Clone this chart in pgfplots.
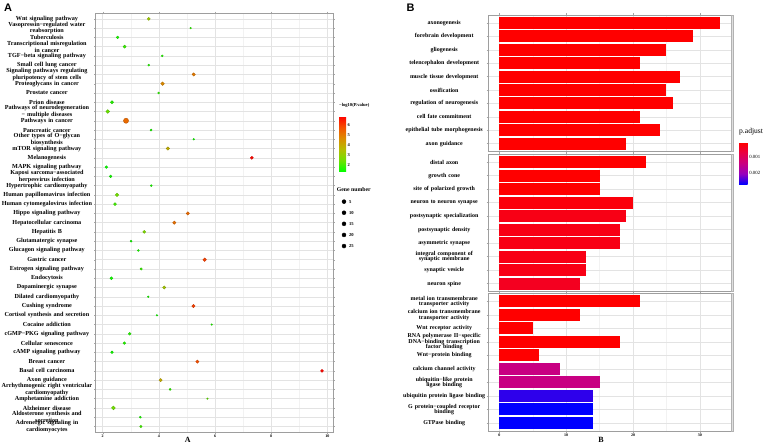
\documentclass[border=0pt]{standalone}
\usepackage{fontspec}
\setmainfont{Liberation Serif}
\newfontfamily\headfont{Liberation Sans}
\usepackage{pgfplots}
\usepackage{pgfplotstable}
\pgfplotsset{compat=1.18}

\definecolor{gridmaj}{gray}{0.89}
\definecolor{gridmin}{gray}{0.95}
\definecolor{panelframe}{gray}{0.62}

% panel A: KEGG terms, x = enrichment, logp = -log10(P.value), n = gene number
\pgfplotstableread{
idx x logp n
1 3.64 3.2 7
2 5.13 1.8 3
3 2.53 1.6 6
4 2.78 1.9 7
5 4.12 1.7 4
6 3.64 1.7 4
7 5.24 5.0 8
8 4.13 4.7 9
9 3.99 1.8 4
10 2.33 1.7 7
11 2.18 2.4 10
12 2.83 5.3 16
13 3.72 1.6 4
14 5.24 1.5 3
15 4.32 3.9 8
16 7.31 6.8 7
17 2.13 1.4 6
18 2.28 1.5 6
19 3.73 1.6 4
20 2.51 2.5 9
21 2.44 2.0 7
22 5.03 5.3 8
23 4.55 5.2 8
24 3.48 2.7 7
25 3.01 1.5 4
26 3.27 1.6 4
27 5.63 6.0 9
28 3.37 1.9 5
29 2.31 1.5 7
30 4.19 3.3 7
31 3.62 1.6 3
32 5.23 6.0 8
33 3.93 1.5 3
34 5.88 1.7 3
35 2.96 1.7 6
36 2.77 1.7 6
37 2.33 1.5 6
38 5.37 5.8 8
39 9.81 6.8 7
40 4.06 4.0 8
41 4.40 1.8 4
42 5.73 2.3 3
43 2.38 2.5 10
44 3.34 1.6 4
45 3.36 2.0 5
}\keggtable

\pgfplotstableread{
idx x n
1 0.4 5
2 0.4 10
3 0.4 15
4 0.4 20
5 0.4 25
}\sizetable

% panel B: GO terms, val = count, p = p.adjust in units of 0.001
\pgfplotstableread{
idx val p
1 33 0.1
2 29 0.1
3 25 0.1
4 21 0.1
5 27 0.1
6 25 0.1
7 26 0.1
8 21 0.1
9 24 0.1
10 19 0.1
}\bptable
\pgfplotstableread{
idx val p
1 22 0.1
2 15 0.1
3 15 0.1
4 20 0.2
5 19 0.3
6 18 0.3
7 18 0.3
8 13 0.3
9 13 0.3
10 12 0.4
}\cctable
\pgfplotstableread{
idx val p
1 21 0.1
2 12 0.1
3 5 0.1
4 18 0.1
5 6 0.1
6 9 1.4
7 15 1.4
8 14 2.5
9 14 2.7
10 14 2.7
}\mftable

\pgfplotsset{
  /pgf/number format/assume math mode=true,
  ggpanel/.style={
    anchor=south west, scale only axis,
    grid=both,
    major grid style={gridmaj, line width=0.45bp},
    minor grid style={gridmin, line width=0.3bp},
    axis line style={panelframe, line width=0.7bp},
    tick align=outside, major tick length=1.6bp, minor tick length=0pt,
    tick style={gray!70, line width=0.4bp},
    xticklabel style={font=\fontsize{4}{4}\selectfont\bfseries, inner sep=1bp},
  },
  keggmap/.style={
    colormap={kegg}{rgb255(0cm)=(0,255,0) rgb255(1cm)=(110,225,0)
      rgb255(2cm)=(180,190,0) rgb255(3cm)=(220,140,0) rgb255(4cm)=(245,80,0)
      rgb255(5cm)=(255,0,0)},
    point meta min=1.33, point meta max=6.9,
  },
  gofacet/.style={
    ggpanel, width=242.7bp,
    xmin=-1.65, xmax=34.65, ymin=0.4, ymax=10.6, y dir=reverse,
    xtick={0,10,20,30}, minor xtick={5,15,25},
    ytick={1,...,10},
    yticklabel style={font=\fontsize{6}{5.6}\selectfont\bfseries,
      align=center, text width=84bp, inner sep=0.3bp},
    colormap={padj}{rgb255(0cm)=(255,0,0) rgb255(1cm)=(232,0,70)
      rgb255(2cm)=(200,0,130) rgb255(3cm)=(150,0,190)
      rgb255(4cm)=(0,0,255)},
    point meta min=0.1, point meta max=2.7,
    clip=false,
  },
  % each bar is drawn from 0 to its count, filled with the colour mapped from p.adjust
  gobars/.style={scatter, only marks, mark=*, mark size=0pt,
    mark options={draw=none, fill=none},
    point meta=explicit,
    visualization depends on={\thisrow{val} \as \barlen},
    scatter/@pre marker code/.code={%
      \pgfplotscolormapdefinemappedcolor{\pgfplotspointmetatransformed}%
      \fill[mapped color, draw=none, fill opacity=1]
        (axis direction cs:-\barlen,-0.45) rectangle (axis direction cs:0,0.45);},
    scatter/@post marker code/.code={},
  },
}

\newcommand{\facetstrip}{%
  \draw[gray!60, fill=gray!25, line width=0.4bp]
    (rel axis cs:1,0) rectangle ([xshift=2.6bp]rel axis cs:1,1);}

\begin{document}
\begin{tikzpicture}
\useasboundingbox (0,0) rectangle (767bp,445bp);
\fill[white] (0,0) rectangle (767bp,445bp);
\node[font=\headfont\bfseries\fontsize{11}{11}\selectfont, inner sep=0pt] at (8bp,437bp) {A};
\node[font=\headfont\bfseries\fontsize{11}{11}\selectfont, inner sep=0pt] at (410.5bp,437bp) {B};

% ---------------- panel A ----------------
\begin{axis}[
  ggpanel, keggmap,
  at={(95.7bp,13bp)}, width=237.3bp, height=418.7bp,
  xmin=1.75, xmax=10.2, ymin=0.4, ymax=45.6, y dir=reverse,
  xtick={2,4,6,8,10}, minor xtick={3,5,7,9},
  ytick={1,...,45},
  yticklabel style={font=\fontsize{6.2}{5.3}\selectfont\bfseries,
    align=center, text width=94bp, inner sep=0pt},
  yticklabels={
    Wnt signaling pathway,
    {Vasopressin−regulated water\\reabsorption},
    Tuberculosis,
    {Transcriptional misregulation\\in cancer},
    TGF−beta signaling pathway,
    Small cell lung cancer,
    {Signaling pathways regulating\\pluripotency of stem cells},
    Proteoglycans in cancer,
    Prostate cancer,
    Prion disease,
    {Pathways of neurodegeneration\\− multiple diseases},
    Pathways in cancer,
    Pancreatic cancer,
    {Other types of O−glycan\\biosynthesis},
    mTOR signaling pathway,
    Melanogenesis,
    MAPK signaling pathway,
    {Kaposi sarcoma−associated\\herpesvirus infection},
    Hypertrophic cardiomyopathy,
    Human papillomavirus infection,
    Human cytomegalovirus infection,
    Hippo signaling pathway,
    Hepatocellular carcinoma,
    Hepatitis B,
    Glutamatergic synapse,
    Glucagon signaling pathway,
    Gastric cancer,
    Estrogen signaling pathway,
    Endocytosis,
    Dopaminergic synapse,
    Dilated cardiomyopathy,
    Cushing syndrome,
    Cortisol synthesis and secretion,
    Cocaine addiction,
    cGMP−PKG signaling pathway,
    Cellular senescence,
    cAMP signaling pathway,
    Breast cancer,
    Basal cell carcinoma,
    Axon guidance,
    {Arrhythmogenic right ventricular\\cardiomyopathy},
    Amphetamine addiction,
    Alzheimer disease,
    {Aldosterone synthesis and\\secretion},
    {Adrenergic signaling in\\cardiomyocytes}},
  xlabel={A},
  xlabel style={at={(axis description cs:0.388,0)}, anchor=center, yshift=-8bp,
    font=\fontsize{8}{8}\selectfont\bfseries},
]
\addplot[scatter, only marks, mark=*,
  point meta=explicit,
  visualization depends on={0.78*sqrt(\thisrow{n})-0.55 \as \msize},
  scatter/@pre marker code/.append style={/tikz/mark size=\msize}]
  table[x=x, y=idx, meta=logp] {\keggtable};
\end{axis}

% colour scale of panel A, on an empty axis of the same size
\begin{axis}[
  keggmap,
  at={(95.7bp,13bp)}, anchor=south west, scale only axis,
  width=237.3bp, height=418.7bp,
  xmin=0, xmax=1, ymin=0, ymax=1, hide axis,
  colorbar,
  colorbar style={
    at={(parent axis.north east)}, anchor=north west,
    xshift=-2.5bp, yshift=-102.7bp,
    width=7bp, height=55.7bp,
    ytick={2,3,4,5,6},
    axis line style={draw=none},
    major tick length=0pt,
    yticklabel style={font=\fontsize{4.5}{4.5}\selectfont\bfseries, inner sep=1.5bp},
    title={−log10(P.value)},
    title style={at={(0,1)}, anchor=south west, inner sep=0pt, yshift=2.5bp,
      font=\fontsize{4.6}{4.6}\selectfont\bfseries},
  },
]
\end{axis}

% gene number legend
\begin{axis}[
  at={(336bp,193.4bp)}, anchor=south west, scale only axis,
  width=20bp, height=55.5bp,
  xmin=0, xmax=1, ymin=0.5, ymax=5.5, y dir=reverse,
  hide axis, clip=false,
]
\addplot[scatter, only marks, mark=*,
  point meta=explicit,
  visualization depends on={0.78*sqrt(\thisrow{n})-0.55 \as \msize},
  scatter/use mapped color={draw=black, fill=black},
  scatter/@pre marker code/.append style={/tikz/mark size=\msize},
  nodes near coords,
  every node near coord/.append style={anchor=west, xshift=5bp, text=black,
    font=\fontsize{4.6}{4.6}\selectfont\bfseries, inner sep=0pt}]
  table[x=x, y=idx, meta=n] {\sizetable};
\node[anchor=base west, inner sep=0pt, font=\fontsize{5.8}{5.8}\selectfont\bfseries]
  at ([xshift=0.7bp, yshift=4.8bp]rel axis cs:0,1) {Gene number};
\end{axis}

% ---------------- panel B ----------------
\begin{axis}[
  gofacet,
  at={(488.3bp,293.3bp)}, height=136.7bp,
  xticklabels={},
  yticklabels={axonogenesis, forebrain development, gliogenesis,
    telencephalon development, muscle tissue development, ossification,
    regulation of neurogenesis, cell fate commitment,
    epithelial tube morphogenesis, axon guidance},
  colorbar,
  colorbar style={
    at={(parent axis.north east)}, anchor=north west,
    xshift=-0.5bp, yshift=-127.7bp,
    width=8.7bp, height=41.6bp,
    y dir=reverse,
    ytick={1,2}, yticklabels={0.001,0.002},
    axis line style={draw=none},
    major tick length=0pt,
    yticklabel style={font=\fontsize{4.8}{4.8}\selectfont, inner sep=1.5bp},
    title={p.adjust},
    title style={at={(0,1)}, anchor=south west, inner sep=0pt, yshift=1.7bp,
      font=\fontsize{7.6}{7.6}\selectfont},
  },
]
\addplot[gobars] table[x=val, y=idx, meta=p] {\bptable};
\facetstrip
\end{axis}

\begin{axis}[
  gofacet,
  at={(488.3bp,153.3bp)}, height=137.7bp,
  xticklabels={},
  yticklabels={distal axon, growth cone, site of polarized growth,
    neuron to neuron synapse, postsynaptic specialization,
    postsynaptic density, asymmetric synapse,
    {integral component of\\synaptic membrane}, synaptic vesicle,
    neuron spine},
]
\addplot[gobars] table[x=val, y=idx, meta=p] {\cctable};
\facetstrip
\end{axis}

\begin{axis}[
  gofacet,
  at={(488.3bp,14bp)}, height=137.7bp,
  yticklabels={
    {metal ion transmembrane\\transporter activity},
    {calcium ion transmembrane\\transporter activity},
    Wnt receptor activity,
    {RNA polymerase II−specific\\DNA−binding transcription\\factor binding},
    Wnt−protein binding,
    calcium channel activity,
    {ubiquitin−like protein\\ligase binding},
    ubiquitin protein ligase binding,
    {G protein−coupled receptor\\binding},
    GTPase binding},
  xlabel={B},
  xlabel style={at={(axis description cs:0.464,0)}, anchor=center, yshift=-9bp,
    font=\fontsize{8}{8}\selectfont\bfseries},
]
\addplot[gobars] table[x=val, y=idx, meta=p] {\mftable};
\facetstrip
\end{axis}
\end{tikzpicture}
\end{document}
